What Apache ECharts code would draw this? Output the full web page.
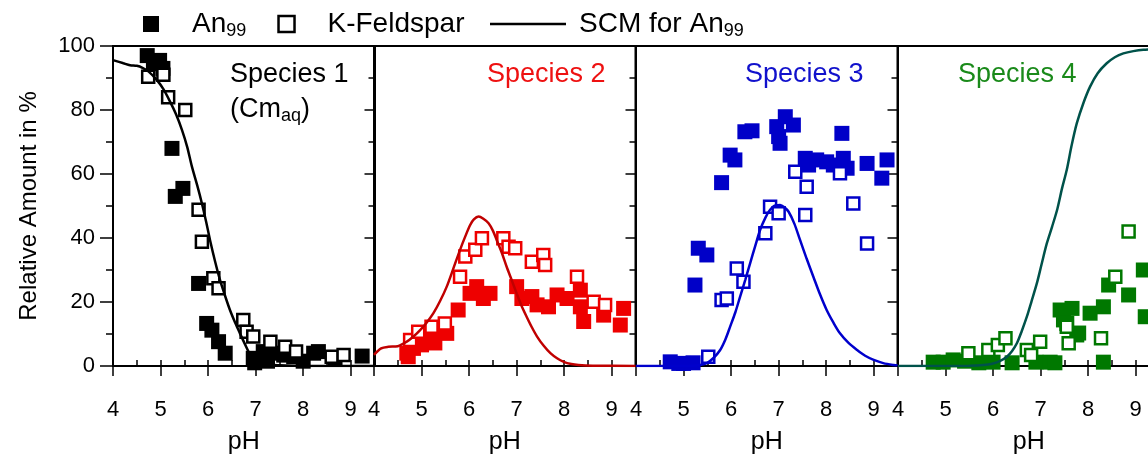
<!DOCTYPE html>
<html>
<head>
<meta charset="utf-8">
<script src="https://cdn.jsdelivr.net/npm/echarts@6/dist/echarts.min.js"></script>
<style>
  html, body { margin: 0; padding: 0; background: #fff; }
  #chart { width: 1148px; height: 455px; }
</style>
</head>
<body>
<div id="chart"></div>
<script>
// Measured species fractions [pH, relative amount in %] for the two minerals,
// plus the surface complexation model (SCM) curve for An99, one set per species.
const s1An99 = [[4.72,97],[4.85,94.5],[4.98,95.5],[5.05,93],[5.24,68],[5.31,53],[5.47,55.5],[5.80,25.8],[5.97,13.3],[6.08,11.2],[6.22,7.6],[6.36,4],[6.95,2.4],[6.98,1],[7.16,4.5],[7.25,1.5],[7.37,4],[7.59,3.4],[7.80,2.9],[8.0,1.5],[8.22,4],[8.32,4.5],[8.67,2.4],[9.24,3.1]];
const s1KFeld = [[4.74,90.4],[5.06,91],[5.16,84],[5.52,80],[5.80,48.8],[5.87,38.8],[6.11,27.4],[6.22,24.3],[6.74,14.4],[6.81,10.7],[6.95,9.2],[7.31,7.6],[7.62,6],[7.85,4.5],[8.60,2.9],[8.85,3.4]];
const s1Model = [[4.0,95.6],[4.22,94.6],[4.36,94],[4.5,93.8],[4.62,93.2],[4.75,92],[4.92,89.4],[5.06,86.5],[5.2,82.6],[5.33,78.5],[5.45,73.8],[5.56,68.5],[5.66,62.3],[5.77,56.5],[5.87,50.8],[5.96,45],[6.04,39.4],[6.15,32.5],[6.25,26.9],[6.36,21.8],[6.46,17.5],[6.57,13.5],[6.67,10.2],[6.77,7],[6.87,4],[7.0,1.8],[7.2,0.6],[7.5,0.2],[8.0,0],[9.5,0]];

const s2An99 = [[4.69,4],[4.72,2.9],[4.83,5.5],[5.0,6.6],[5.11,8.6],[5.25,10.7],[5.28,7.2],[5.53,10.2],[5.77,17.5],[6.02,22.7],[6.16,24.8],[6.30,21.1],[6.44,22.7],[7.0,24.8],[7.11,21.1],[7.32,21.7],[7.43,19.1],[7.67,18.5],[7.85,22.2],[8.06,21.1],[8.34,23.7],[8.34,18.5],[8.41,13.9],[8.83,15.9],[9.18,12.8],[9.25,18]];
const s2KFeld = [[4.76,8.1],[4.93,10.7],[5.21,12.3],[5.49,13.3],[5.81,27.9],[5.92,34.2],[6.13,36.3],[6.27,39.9],[6.72,39.9],[6.83,37.3],[6.97,36.8],[7.32,32.6],[7.56,34.7],[7.60,31.6],[8.27,27.9],[8.62,20.1],[8.86,19.1]];
const s2Model = [[4.0,3.5],[4.15,5.5],[4.3,6],[4.5,6.2],[4.69,7.6],[4.83,9.2],[4.97,11.2],[5.11,13.6],[5.25,16.5],[5.39,20.3],[5.53,24.8],[5.67,30.5],[5.81,36.3],[5.92,40.5],[6.02,44],[6.1,45.8],[6.2,46.7],[6.3,46],[6.41,44.6],[6.5,42.3],[6.58,39.4],[6.69,35.3],[6.79,31],[6.9,26.7],[7.0,22.7],[7.1,18.9],[7.21,15.4],[7.32,12.1],[7.43,9.2],[7.57,6.3],[7.71,4],[7.85,2.4],[7.99,1.3],[8.15,0.6],[8.3,0.3],[8.6,0.1],[9.5,0]];

const s3An99 = [[4.72,1.3],[4.9,0.8],[5.0,0.8],[5.2,1],[5.24,25.3],[5.31,36.8],[5.49,34.7],[5.80,57.3],[5.98,65.9],[6.08,64.4],[6.29,73.2],[6.44,73.5],[6.96,74.8],[7.0,71.7],[7.03,69.6],[7.14,77.9],[7.31,75.3],[7.56,64.9],[7.63,62.8],[7.80,64.4],[8.01,63.8],[8.15,62.8],[8.33,72.7],[8.36,64.9],[8.44,61.8],[8.86,63.3],[9.17,58.7],[9.28,64.4]];
const s3KFeld = [[5.52,2.9],[5.80,20.6],[5.91,21.1],[6.12,30.5],[6.26,26.3],[6.72,41.5],[6.82,49.8],[7.0,47.7],[7.35,60.7],[7.59,56],[7.56,47.2],[8.29,60.2],[8.57,50.8],[8.86,38.3]];
const s3Model = [[4.0,0],[5.0,0],[5.2,0.1],[5.35,0.3],[5.49,0.9],[5.63,2.5],[5.77,5],[5.88,8.3],[5.98,12.3],[6.09,16.8],[6.19,21.7],[6.3,27],[6.4,32.1],[6.51,37.6],[6.61,42.5],[6.72,46.3],[6.82,48.8],[6.93,50.2],[7.03,50.3],[7.12,49.6],[7.21,48.2],[7.33,44.5],[7.45,39.4],[7.59,33.5],[7.73,27.9],[7.87,22.4],[8.01,17.5],[8.15,13.6],[8.29,10.2],[8.47,7.2],[8.65,5],[8.82,3.2],[9.0,1.9],[9.2,0.9],[9.42,0.3],[9.5,0.2]];

const s4An99 = [[4.74,1.2],[4.95,1.2],[5.16,1.9],[5.4,1.5],[5.7,1],[6.0,1.2],[6.4,1],[6.9,1.2],[7.2,1.2],[7.3,1],[7.41,17.5],[7.48,14.4],[7.55,13.3],[7.66,18],[7.76,9.7],[7.8,10.3],[8.04,16.5],[8.32,18.5],[8.32,1.2],[8.43,25.3],[8.85,22.2],[9.16,30],[9.2,15.4]];
const s4KFeld = [[5.48,4],[5.9,5],[6.1,6.6],[6.26,8.7],[6.71,5],[6.8,3.4],[6.99,7.6],[7.55,12.3],[7.59,7.1],[8.27,8.7],[8.57,27.9],[8.85,42]];
const s4Model = [[4.0,0],[5.5,0.1],[5.8,0.3],[6.0,0.8],[6.15,1.6],[6.29,2.9],[6.4,4.7],[6.5,7.1],[6.6,10.8],[6.71,15.4],[6.81,20.3],[6.92,25.8],[7.02,31.8],[7.13,38.3],[7.24,43.5],[7.35,49],[7.45,55.5],[7.55,61.3],[7.65,68.8],[7.76,75.8],[7.9,82.2],[8.04,87.3],[8.2,91.5],[8.39,94.6],[8.56,96.5],[8.74,97.7],[8.95,98.4],[9.16,98.8],[9.5,99]];

const xTicks = [4, 5, 6, 7, 8, 9];
const yTicks = [0, 20, 40, 60, 80, 100];

const speciesNames = ['Species 1', 'Species 2', 'Species 3', 'Species 4'];
const markerColors = ['#000000', '#ee0000', '#0000c8', '#007800'];
const lineColors = ['#000000', '#c00000', '#0000cc', '#00524a'];
const labelColors = ['#000000', '#ee1111', '#1111cc', '#1a8a1a'];
const panels = [
  { an: s1An99, kf: s1KFeld, model: s1Model },
  { an: s2An99, kf: s2KFeld, model: s2Model },
  { an: s3An99, kf: s3KFeld, model: s3Model },
  { an: s4An99, kf: s4KFeld, model: s4Model }
];

const FONT = '"Liberation Sans", Arial, sans-serif';
const panelLeft = [113, 374, 636, 898];
const panelWidth = 261.5;
const TOP = 46, HEIGHT = 320;

const grid = [], xAxis = [], yAxis = [], series = [];

panels.forEach((p, i) => {
  grid.push({ left: panelLeft[i], top: TOP, width: panelWidth, height: HEIGHT,
    outerBoundsMode: 'none', containLabel: false,
    show: true, borderColor: '#000', borderWidth: 2, backgroundColor: 'transparent' });

  // major ticks + labels
  xAxis.push({
    type: 'value', gridIndex: i, min: xTicks[0], max: 9.5, interval: 1,
    axisLine: { show: true, lineStyle: { color: '#000', width: 2 } },
    axisTick: { show: true, inside: false, length: 10, lineStyle: { color: '#000', width: 1.5 } },
    axisLabel: { show: true, color: '#000', fontSize: 22, fontFamily: FONT, margin: 33,
      showMaxLabel: false, formatter: v => (xTicks.indexOf(v) >= 0 ? String(v) : '') },
    splitLine: { show: false },
    name: 'pH', nameLocation: 'middle', nameGap: 64,
    nameTextStyle: { color: '#000', fontSize: 25, fontFamily: FONT }
  });
  // half-unit minor ticks
  xAxis.push({
    type: 'value', gridIndex: i, min: xTicks[0], max: 9.5, interval: 0.5,
    axisLine: { show: false },
    axisTick: { show: true, inside: false, length: 6, lineStyle: { color: '#000', width: 1.5 } },
    axisLabel: { show: false }, splitLine: { show: false }
  });

  const first = i === 0;
  yAxis.push({
    type: 'value', gridIndex: i, min: yTicks[0], max: yTicks[yTicks.length - 1], interval: 20,
    position: 'left',
    axisLine: { show: true, lineStyle: { color: '#000', width: 2 } },
    axisTick: { show: first, inside: false, length: 13, lineStyle: { color: '#000', width: 1.5 } },
    minorTick: { show: first, splitNumber: 2, length: 7, lineStyle: { color: '#000', width: 1.5 } },
    axisLabel: { show: first, color: '#000', fontSize: 22, fontFamily: FONT, margin: 18 },
    splitLine: { show: false },
    name: first ? 'Relative Amount in %' : '', nameLocation: 'middle', nameGap: 72,
    nameTextStyle: { color: '#000', fontSize: 24, fontFamily: FONT }
  });
  yAxis.push({
    type: 'value', gridIndex: i, min: yTicks[0], max: yTicks[yTicks.length - 1], interval: 20,
    position: 'right',
    axisLine: { show: true, lineStyle: { color: '#000', width: 2 } },
    axisTick: { show: true, inside: true, length: 10, lineStyle: { color: '#000', width: 1.5 } },
    minorTick: { show: true, splitNumber: 2, length: 6, lineStyle: { color: '#000', width: 1.5 } },
    axisLabel: { show: false }, splitLine: { show: false }
  });

  const xi = i * 2, yi = i * 2;
  series.push({
    name: 'An99', type: 'scatter', xAxisIndex: xi, yAxisIndex: yi, data: p.an,
    symbol: 'rect', symbolSize: 15, z: 2,
    itemStyle: { color: markerColors[i], opacity: 1 }
  });
  series.push({
    name: 'K-Feldspar', type: 'scatter', xAxisIndex: xi, yAxisIndex: yi, data: p.kf,
    symbol: 'rect', symbolSize: 12, z: 3,
    itemStyle: { color: '#fff', borderColor: markerColors[i], borderWidth: 2.5, opacity: 1 }
  });
  series.push({
    name: 'SCM for An99', type: 'line', xAxisIndex: xi, yAxisIndex: yi, data: p.model,
    showSymbol: false, symbol: 'none', smooth: 0.3, z: 4,
    lineStyle: { color: lineColors[i], width: 2.5 }, itemStyle: { color: lineColors[i] }
  });
});

const richSub = { fontSize: 18, fontFamily: FONT, color: '#000', padding: [14, 0, 0, 0] };
const legendFmt = name => name.endsWith('An99') ? name.slice(0, -2) + '{sub|99}' : name;

const option = {
  backgroundColor: '#fff',
  animation: false,
  grid, xAxis, yAxis, series,
  legend: [
    {
      data: [
        { name: 'An99', icon: 'rect', itemStyle: { color: '#000', borderWidth: 0 } },
        { name: 'K-Feldspar', icon: 'rect', itemStyle: { color: '#fff', borderColor: '#000', borderWidth: 2.5 } }
      ],
      left: 143, top: 10, padding: 0, itemWidth: 16, itemHeight: 16, itemGap: 31,
      selectedMode: false, formatter: legendFmt,
      textStyle: { color: '#000', fontSize: 28, fontFamily: FONT, padding: [0, 0, 0, 28], rich: { sub: richSub } }
    },
    {
      data: [{ name: 'SCM for An99', icon: 'rect', itemStyle: { color: '#000', borderWidth: 0 } }],
      left: 490, top: 10, padding: 0, itemWidth: 76, itemHeight: 2.5,
      selectedMode: false, formatter: legendFmt,
      textStyle: { color: '#000', fontSize: 28, fontFamily: FONT, padding: [0, 0, 0, 8], rich: { sub: richSub } }
    }
  ],
  graphic: [
    { type: 'text', left: 230, top: 61, style: { text: speciesNames[0], fill: labelColors[0], font: '27px ' + FONT } },
    { type: 'text', left: 230, top: 96, style: {
        text: '(Cm{sub|aq})', fill: labelColors[0], font: '27px ' + FONT,
        rich: { sub: { fontSize: 18, fontFamily: FONT, fill: labelColors[0], padding: [14, 0, 0, 0] } } } },
    { type: 'text', left: 487, top: 61, style: { text: speciesNames[1], fill: labelColors[1], font: '27px ' + FONT } },
    { type: 'text', left: 745, top: 61, style: { text: speciesNames[2], fill: labelColors[2], font: '27px ' + FONT } },
    { type: 'text', left: 958, top: 61, style: { text: speciesNames[3], fill: labelColors[3], font: '27px ' + FONT } }
  ]
};

const chart = echarts.init(document.getElementById('chart'), null, { renderer: 'canvas' });
chart.setOption(option);
</script>
</body>
</html>
